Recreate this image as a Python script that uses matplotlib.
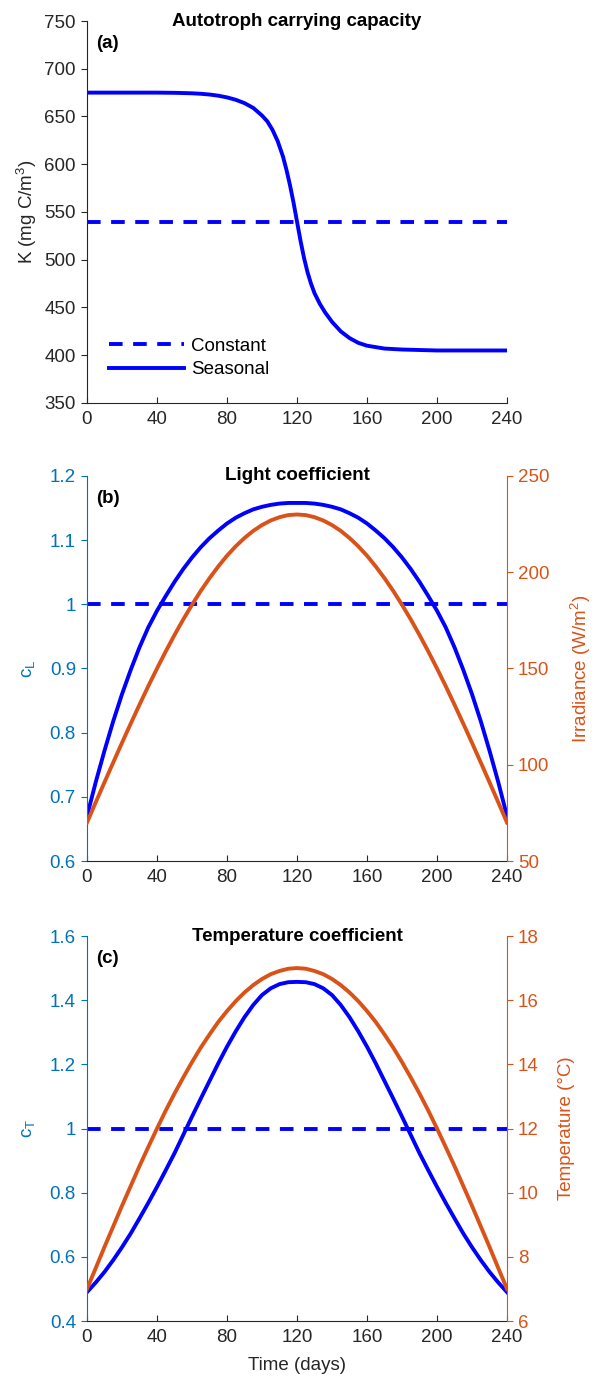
import matplotlib
matplotlib.use("Agg")
import matplotlib.pyplot as plt
import numpy as np
from matplotlib.transforms import offset_copy

plt.rcParams['font.family'] = ['Liberation Sans', 'DejaVu Sans']
plt.rcParams['mathtext.fontset'] = 'custom'
plt.rcParams['mathtext.rm'] = 'Liberation Sans'
plt.rcParams['mathtext.it'] = 'Liberation Sans'

# ---------------- data ----------------
days_ticks = [0, 40, 80, 120, 160, 200, 240]

# Panel (a): carrying capacity
k_days = [0, 20, 40, 50, 60, 65, 70, 75, 80, 85, 90, 95, 100, 103, 106, 109, 112, 114,
          116, 118, 120, 122, 124, 126, 128, 130, 133, 136, 140, 145, 150, 155, 160,
          170, 180, 200, 240]
k_seasonal = [675, 675, 675, 674.8, 674.3, 673.8, 673, 671.8, 670, 667.5, 664, 659, 651,
              645, 636, 624, 608, 594, 578, 560, 540, 520, 502, 487, 475, 465, 454, 445,
              435, 425, 418, 413, 410, 407, 406, 405, 405]
k_constant = [540, 540]
k_const_days = [0, 240]

# Panels (b), (c): common day grid
bc_days = [0, 5, 10, 15, 20, 25, 30, 35, 40, 45, 50, 55, 60, 65, 70, 75, 80, 85, 90, 95,
           100, 105, 110, 115, 120, 125, 130, 135, 140, 145, 150, 155, 160, 165, 170,
           175, 180, 185, 190, 195, 200, 205, 210, 215, 220, 225, 230, 235, 240]

# Panel (b): light coefficient and irradiance
c_light = [0.670, 0.723, 0.772, 0.818, 0.860, 0.898, 0.933, 0.964, 0.990, 1.013, 1.035,
           1.055, 1.073, 1.089, 1.103, 1.115, 1.126, 1.135, 1.142, 1.148, 1.152, 1.155,
           1.157, 1.158, 1.158, 1.158, 1.157, 1.155, 1.152, 1.148, 1.142, 1.135, 1.126,
           1.115, 1.103, 1.089, 1.073, 1.055, 1.035, 1.013, 0.990, 0.964, 0.933, 0.898,
           0.860, 0.818, 0.772, 0.723, 0.670]
irradiance = [70, 80.5, 90.9, 101.2, 111.4, 121.4, 131.2, 140.8, 150, 158.9, 167.4,
              175.5, 183.1, 190.3, 196.9, 203.0, 208.6, 213.5, 217.8, 221.5, 224.5,
              226.9, 228.6, 229.7, 230, 229.7, 228.6, 226.9, 224.5, 221.5, 217.8, 213.5,
              208.6, 203.0, 196.9, 190.3, 183.1, 175.5, 167.4, 158.9, 150, 140.8, 131.2,
              121.4, 111.4, 101.2, 90.9, 80.5, 70]
c_light_const = [1, 1]

# Panel (c): temperature coefficient and temperature
c_temp = [0.490, 0.520, 0.553, 0.590, 0.630, 0.673, 0.720, 0.768, 0.818, 0.870, 0.923,
          0.980, 1.037, 1.093, 1.148, 1.203, 1.255, 1.303, 1.347, 1.385, 1.416, 1.437,
          1.450, 1.456, 1.457, 1.456, 1.450, 1.437, 1.416, 1.385, 1.347, 1.303, 1.255,
          1.203, 1.148, 1.093, 1.037, 0.980, 0.923, 0.870, 0.818, 0.768, 0.720, 0.673,
          0.630, 0.590, 0.553, 0.520, 0.490]
temperature = [7.0, 7.65, 8.31, 8.95, 9.59, 10.21, 10.83, 11.42, 12.0, 12.56, 13.09,
               13.59, 14.07, 14.52, 14.93, 15.32, 15.66, 15.97, 16.24, 16.47, 16.66,
               16.81, 16.91, 16.98, 17.0, 16.98, 16.91, 16.81, 16.66, 16.47, 16.24,
               15.97, 15.66, 15.32, 14.93, 14.52, 14.07, 13.59, 13.09, 12.56, 12.0,
               11.42, 10.83, 10.21, 9.59, 8.95, 8.31, 7.65, 7.0]
c_temp_const = [1, 1]

# ---------------- style ----------------
BLUE = '#0000FF'
MBLUE = '#0072BD'
ORANGE = '#D95319'
GREY = '#262626'
FS = 13.5
LW = 2.8
DASH = (3.5, 2.7)

W, H = 592, 1393
fig = plt.figure(figsize=(W / 100, H / 100), dpi=100)

left = 87 / W
width = (507 - 87) / W

def rect(top_px, bot_px):
    return [left, 1 - bot_px / H, width, (bot_px - top_px) / H]

def style_x(ax):
    ax.set_xlim(0, 240)
    ax.set_xticks(days_ticks)
    ax.tick_params(axis='x', direction='in', length=4, width=0.8, colors=GREY,
                   labelsize=FS, pad=6)
    ax.spines['bottom'].set_color(GREY)
    ax.spines['top'].set_visible(False)

def add_title(ax, txt, label):
    ax.text(0.5, 1.0, txt, ha='center', va='baseline', fontsize=FS,
            fontweight='bold', color='black',
            transform=offset_copy(ax.transAxes, fig=fig, x=0, y=-4.5, units='dots'))
    ax.text(0, 1.0, label, ha='left', va='baseline', fontsize=FS, fontweight='bold',
            transform=offset_copy(ax.transAxes, fig=fig, x=9, y=-27, units='dots'))

def style_twin(ax2):
    ax2.tick_params(axis='y', direction='out', length=4, width=0.8, colors=ORANGE,
                    labelsize=FS, pad=4)
    ax2.spines['right'].set_color(ORANGE)
    for s in ['left', 'top', 'bottom']:
        ax2.spines[s].set_visible(False)

# ---- Panel (a)
axa = fig.add_axes(rect(21, 403))
axa.plot(k_const_days, k_constant, color=BLUE, lw=LW, dashes=DASH, label='Constant')
axa.plot(k_days, k_seasonal, color=BLUE, lw=LW, label='Seasonal')
style_x(axa)
axa.set_ylim(350, 750)
axa.set_yticks(np.arange(350, 751, 50))
axa.tick_params(axis='y', direction='out', length=4, width=0.8, colors=GREY,
                labelsize=FS, pad=4)
axa.spines['right'].set_visible(False)
axa.spines['left'].set_color(GREY)
axa.set_ylabel('K (mg C/m$^3$)', fontsize=FS, color=GREY, labelpad=4)
axa.legend(loc='lower left', bbox_to_anchor=(0.035, 0.045), frameon=False,
           fontsize=FS, handlelength=4.0, handletextpad=0.35, labelspacing=0.35,
           borderaxespad=0)
add_title(axa, 'Autotroph carrying capacity', '(a)')

# ---- Panel (b)
axb = fig.add_axes(rect(476, 861))
axb.plot(k_const_days, c_light_const, color=BLUE, lw=LW, dashes=DASH)
axb.plot(bc_days, c_light, color=BLUE, lw=LW)
style_x(axb)
axb.set_ylim(0.6, 1.2)
axb.set_yticks([0.6, 0.7, 0.8, 0.9, 1.0, 1.1, 1.2])
axb.set_yticklabels(['0.6', '0.7', '0.8', '0.9', '1', '1.1', '1.2'])
axb.tick_params(axis='y', direction='out', length=4, width=0.8, colors=MBLUE,
                labelsize=FS, pad=4)
axb.spines['left'].set_color(MBLUE)
axb.spines['right'].set_visible(False)
axb.set_ylabel('c$_\\mathregular{L}$', fontsize=FS, color=MBLUE, labelpad=9)
axb2 = axb.twinx()
axb2.plot(bc_days, irradiance, color=ORANGE, lw=LW)
axb2.set_ylim(50, 250)
axb2.set_yticks([50, 100, 150, 200, 250])
style_twin(axb2)
axb2.set_ylabel('Irradiance (W/m$^2$)', fontsize=FS, color=ORANGE, labelpad=14)
add_title(axb, 'Light coefficient', '(b)')

# ---- Panel (c)
axc = fig.add_axes(rect(936, 1321))
axc.plot(k_const_days, c_temp_const, color=BLUE, lw=LW, dashes=DASH)
axc.plot(bc_days, c_temp, color=BLUE, lw=LW)
style_x(axc)
axc.set_ylim(0.4, 1.6)
axc.set_yticks([0.4, 0.6, 0.8, 1.0, 1.2, 1.4, 1.6])
axc.set_yticklabels(['0.4', '0.6', '0.8', '1', '1.2', '1.4', '1.6'])
axc.tick_params(axis='y', direction='out', length=4, width=0.8, colors=MBLUE,
                labelsize=FS, pad=4)
axc.spines['left'].set_color(MBLUE)
axc.spines['right'].set_visible(False)
axc.set_ylabel('c$_\\mathregular{T}$', fontsize=FS, color=MBLUE, labelpad=9)
axc.set_xlabel('Time (days)', fontsize=FS, color=GREY, labelpad=8)
axc2 = axc.twinx()
axc2.plot(bc_days, temperature, color=ORANGE, lw=LW)
axc2.set_ylim(6, 18)
axc2.set_yticks([6, 8, 10, 12, 14, 16, 18])
style_twin(axc2)
axc2.set_ylabel('Temperature (°C)', fontsize=FS, color=ORANGE, labelpad=14)
add_title(axc, 'Temperature coefficient', '(c)')

fig.savefig('out.png', dpi=100)
